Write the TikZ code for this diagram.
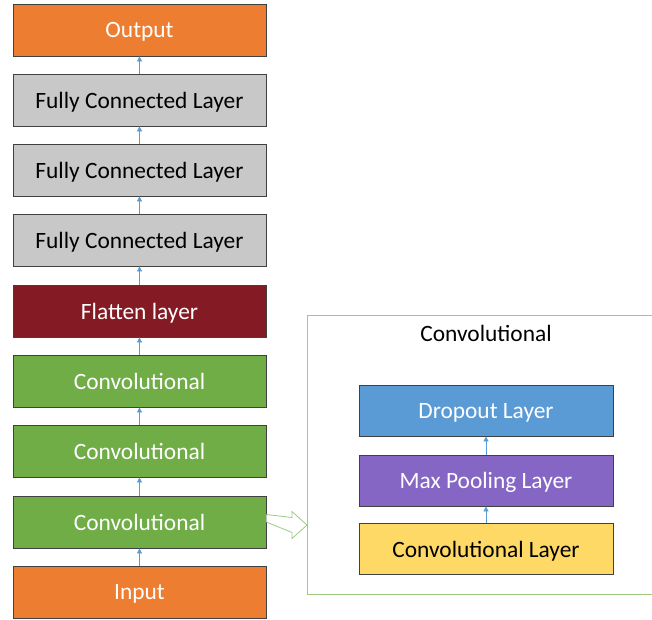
\documentclass[tikz,border=0pt]{standalone}
\usepackage{fontspec}
\setmainfont{Carlito}
\usetikzlibrary{arrows.meta,calc}
\definecolor{orangeL}{HTML}{ED7D31}
\definecolor{grayL}{HTML}{C8C8C8}
\definecolor{flatL}{HTML}{841A23}
\definecolor{greenL}{HTML}{70AD47}
\definecolor{blueL}{HTML}{5B9BD5}
\definecolor{purpleL}{HTML}{8566C4}
\definecolor{yellowL}{HTML}{FFD966}
\definecolor{edgeL}{HTML}{404040}
\definecolor{frameL}{HTML}{9DCB80}
\tikzset{
  txt/.style={font=\fontsize{23.4}{27}\selectfont},
  layer/.style={draw=edgeL, line width=0.8pt, minimum width=253pt, minimum height=52pt,
    inner sep=0pt, txt, text depth=0pt, yshift=0pt},
  sublayer/.style={layer, minimum width=254pt, minimum height=51pt},
  link/.style={-{Triangle[length=5pt,width=5pt]}, draw=blueL, line width=0.8pt},
}
\begin{document}
\begin{tikzpicture}[x=1pt,y=-1pt]
\useasboundingbox (0,0) rectangle (652,619);
\clip (0,0) rectangle (652,619);
% main stack
\node[layer, fill=orangeL, text=white] (out) at (139.5,30) {Output};
\node[layer, fill=grayL] (fc1) at (139.5,100) {Fully Connected Layer};
\node[layer, fill=grayL] (fc2) at (139.5,170) {Fully Connected Layer};
\node[layer, fill=grayL] (fc3) at (139.5,240) {Fully Connected Layer};
\node[layer, fill=flatL, text=white] (flat) at (139.5,311) {Flatten layer};
\node[layer, fill=greenL, text=white] (c1) at (139.5,381) {Convolutional};
\node[layer, fill=greenL, text=white] (c2) at (139.5,451) {Convolutional};
\node[layer, fill=greenL, text=white] (c3) at (139.5,522) {Convolutional};
\node[layer, fill=orangeL, text=white] (in) at (139.5,592) {Input};
\foreach \a/\b in {in/c3, c3/c2, c2/c1, c1/flat, flat/fc3, fc3/fc2, fc2/fc1, fc1/out}
  \draw[link] (\a.north) -- (\b.south);
% expanded convolutional block
\node[draw=frameL, line width=1pt, minimum width=360pt, minimum height=279pt, inner sep=0pt,
  anchor=north west] (blk) at (307,315) {};
\node[txt, anchor=center] (blkt) at (486,333) {Convolutional};
\node[sublayer, fill=blueL, text=white] (drop) at (486,410.5) {Dropout Layer};
\node[sublayer, fill=purpleL, text=white] (pool) at (486,480.5) {Max Pooling Layer};
\node[sublayer, fill=yellowL] (conv) at (486,549) {Convolutional Layer};
\draw[link] (conv.north) -- (pool.south);
\draw[link] (pool.north) -- (drop.south);
% hollow block arrow from the last convolutional layer into the block
\coordinate (tip) at (blk.west |- 0,525);
\draw[draw=frameL, fill=white, line width=0.8pt, line join=miter]
  ($(c3.east)+(0,-7.5)$ |- 0,517.5) -- ($(tip)+(-15,-7.5)$) -- ($(tip)+(-15,-13.5)$)
  -- (tip) -- ($(tip)+(-15,13.5)$) -- ($(tip)+(-15,7.5)$) -- ($(c3.east)$ |- 0,532.5);
\end{tikzpicture}
\end{document}
